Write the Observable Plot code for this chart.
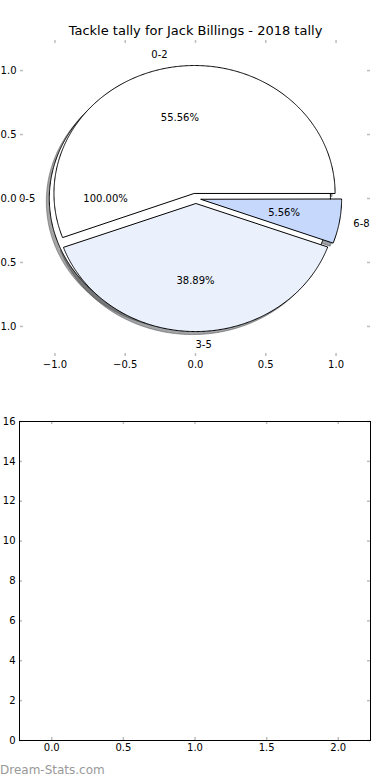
<!DOCTYPE html>
<html><head><meta charset="utf-8">
<script src="https://cdn.jsdelivr.net/npm/d3@7"></script>
<script src="https://cdn.jsdelivr.net/npm/@observablehq/plot@0.6"></script>
<style>
body{margin:0;background:#fff;font-family:"DejaVu Sans",sans-serif;}
#wrap{position:relative;width:390px;height:780px;overflow:hidden;background:#fff;}
#top,#bottom{display:block;line-height:0;}
#wm{position:absolute;left:0;top:762px;font-size:12px;line-height:16px;color:#999;font-family:"DejaVu Sans",sans-serif;}
</style></head><body>
<div id="wrap"><div id="top"></div><div id="bottom"></div><div id="wm">Dream-Stats.com</div></div>
<script>
// ---- data ----
const title = "Tackle tally for Jack Billings - 2018 tally";
const categories = ["0-2", "3-5", "6-8"];
const tallies = [10, 7, 1];
const sliceColors = ["#ffffff", "#eaf1fd", "#c6d9fd"];
const totalCategories = ["0-5"];
const totalTallies = [18];
const totalColors = ["#ffffff"];
const explode = 0.04;
const pieTicks = [-1, -0.5, 0, 0.5, 1];
const bottomXTicks = [0, 0.5, 1, 1.5, 2];
const bottomYTicks = [0, 2, 4, 6, 8, 10, 12, 14, 16];

// ---- wedge geometry (data space, radius 1) ----
function buildWedges(cats, vals, cols) {
  const total = d3.sum(vals);
  let acc = 0;
  return cats.map((c, i) => {
    const t1 = acc / total * 2 * Math.PI;
    acc += vals[i];
    const t2 = acc / total * 2 * Math.PI;
    const mid = (t1 + t2) / 2;
    const cx = explode * Math.cos(mid), cy = explode * Math.sin(mid);
    const full = (t2 - t1) >= 2 * Math.PI - 1e-9;
    const pts = [];
    if (!full) pts.push({x: cx, y: cy});
    const n = Math.max(2, Math.ceil((t2 - t1) / (Math.PI / 360)));
    for (let k = 0; k <= n; k++) {
      const a = t1 + (t2 - t1) * k / n;
      pts.push({x: cx + Math.cos(a), y: cy + Math.sin(a)});
    }
    const col = d3.rgb(cols[i]);
    const shadow = d3.rgb(col.r * 0.3, col.g * 0.3, col.b * 0.3).formatRgb();
    return {cat: c, val: vals[i], pct: vals[i] / total * 100, color: cols[i], shadow, mid, cx, cy, pts,
            anchor: Math.cos(mid) >= -1e-9 ? "start" : "end"};
  });
}
const totalW = buildWedges(totalCategories, totalTallies, totalColors);
const mainW = buildWedges(categories, tallies, sliceColors);
const allW = [...totalW, ...mainW];

const fmt1 = d3.format(".1f");
const baseStyle = {fontFamily: "DejaVu Sans, sans-serif", fontSize: "10px", background: "white", color: "black", overflow: "visible"};

// ---- top: pie ----
const W = 390, H1 = 390, mT = 40, mB = 34, mL = 20, mR = 20;
const fw1 = W - mL - mR, fh1 = H1 - mT - mB;
const tickGray = "#bdbdbd";
const marks1 = [];
for (const w of allW) {
  marks1.push(Plot.line(w.pts, {x: "x", y: "y", curve: "linear-closed", fill: w.shadow, fillOpacity: 0.5,
    stroke: w.shadow, strokeOpacity: 0.5, strokeWidth: 1, dx: -3, dy: 3}));
}
for (const w of allW) {
  marks1.push(Plot.line(w.pts, {x: "x", y: "y", curve: "linear-closed", fill: w.color,
    stroke: "black", strokeWidth: 1, strokeLinejoin: "miter"}));
}
for (const anc of ["start", "end"]) {
  marks1.push(Plot.text(allW.filter(w => w.anchor === anc), {
    x: w => w.cx + 1.1 * Math.cos(w.mid), y: w => w.cy + 1.1 * Math.sin(w.mid),
    text: "cat", textAnchor: anc, lineAnchor: "middle", fontSize: 10, fill: "black"}));
}
marks1.push(Plot.text(allW, {
  x: w => w.cx + 0.6 * Math.cos(w.mid), y: w => w.cy + 0.6 * Math.sin(w.mid),
  text: w => w.pct.toFixed(2) + "%", textAnchor: "middle", lineAnchor: "middle", fontSize: 10, fill: "black"}));
marks1.push(
  Plot.tickX(pieTicks, {x: d => d, stroke: tickGray, strokeWidth: 1.5, insetBottom: fh1 - 3}),
  Plot.tickX(pieTicks, {x: d => d, stroke: tickGray, strokeWidth: 1.5, insetTop: fh1 - 3}),
  Plot.tickY(pieTicks, {y: d => d, stroke: tickGray, strokeWidth: 1.5, insetRight: fw1 - 3}),
  Plot.tickY(pieTicks, {y: d => d, stroke: tickGray, strokeWidth: 1.5, insetLeft: fw1 - 3}),
  Plot.axisX(pieTicks, {anchor: "bottom", label: null, tickSize: 0, tickPadding: 4, tickFormat: fmt1, fontSize: 10, fill: "black"}),
  Plot.axisY(pieTicks, {anchor: "left", label: null, tickSize: 0, tickPadding: 4, tickFormat: fmt1, fontSize: 10, fill: "black"}),
  Plot.text([title], {text: d => d, frameAnchor: "top", dy: -10, fontSize: 13, fill: "black", lineAnchor: "middle"})
);
const chart1 = Plot.plot({
  width: W, height: H1, marginTop: mT, marginBottom: mB, marginLeft: mL, marginRight: mR,
  x: {domain: [-1.245, 1.245], axis: null, label: null},
  y: {domain: [-1.235, 1.235], axis: null, label: null},
  style: baseStyle,
  marks: marks1
});
document.getElementById("top").appendChild(chart1);

// ---- bottom: empty axes ----
const H2 = 370, m2T = 31, m2B = 20, m2L = 19, m2R = 20;
const fw2 = W - m2L - m2R, fh2 = H2 - m2T - m2B;
const chart2 = Plot.plot({
  width: W, height: H2, marginTop: m2T, marginBottom: m2B, marginLeft: m2L, marginRight: m2R,
  x: {domain: [-0.225, 2.225], axis: null, label: null},
  y: {domain: [0, 16], axis: null, label: null},
  style: baseStyle,
  marks: [
    Plot.tickX(bottomXTicks, {x: d => d, stroke: tickGray, strokeWidth: 1.5, insetBottom: fh2 - 3}),
    Plot.tickX(bottomXTicks, {x: d => d, stroke: tickGray, strokeWidth: 1.5, insetTop: fh2 - 3}),
    Plot.tickY(bottomYTicks, {y: d => d, stroke: tickGray, strokeWidth: 1.5, insetRight: fw2 - 3}),
    Plot.tickY(bottomYTicks, {y: d => d, stroke: tickGray, strokeWidth: 1.5, insetLeft: fw2 - 3}),
    Plot.frame({stroke: "black", strokeWidth: 1}),
    Plot.axisX(bottomXTicks, {anchor: "bottom", label: null, tickSize: 0, tickPadding: 3, tickFormat: fmt1, fontSize: 10, fill: "black"}),
    Plot.axisY(bottomYTicks, {anchor: "left", label: null, tickSize: 0, tickPadding: 4, tickFormat: d3.format("d"), fontSize: 10, fill: "black"})
  ]
});
document.getElementById("bottom").appendChild(chart2);
</script>
</body></html>
